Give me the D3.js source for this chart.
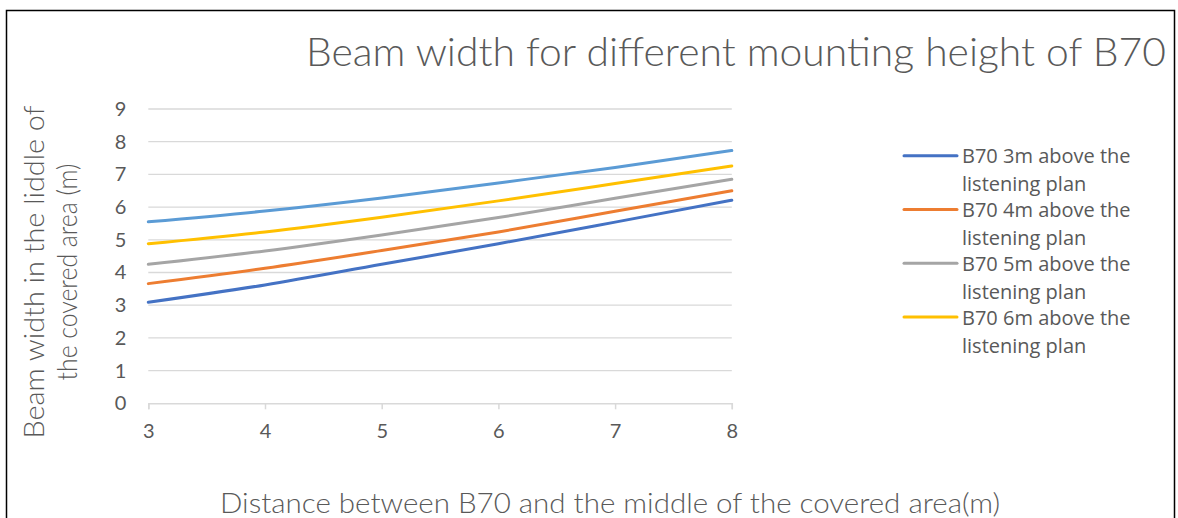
<!DOCTYPE html>
<html>
<head>
<meta charset="utf-8">
<script src="https://cdn.jsdelivr.net/npm/d3@7"></script>
<style>
  body { margin: 0; background: #fff; }
  svg { display: block; }
</style>
</head>
<body>
<svg id="chart" width="1178" height="518"></svg>
<script>
// distances (m) along the x axis
const distances = [3, 4, 5, 6, 7, 8];

// beam width for each mounting height
const b70_3m = [3.09, 3.62, 4.25, 4.88, 5.54, 6.21];
const b70_4m = [3.66, 4.13, 4.67, 5.24, 5.87, 6.50];
const b70_5m = [4.25, 4.66, 5.15, 5.68, 6.27, 6.85];
const b70_6m = [4.88, 5.24, 5.69, 6.19, 6.72, 7.26];
const b70_7m = [5.55, 5.88, 6.28, 6.74, 7.21, 7.73];

const seriesNames = [
  'B70 3m above the listening plan',
  'B70 4m above the listening plan',
  'B70 5m above the listening plan',
  'B70 6m above the listening plan',
  'B70 7m above the listening plan'
];
const seriesValues = [b70_3m, b70_4m, b70_5m, b70_6m, b70_7m];
const colors = ['#4472C4', '#ED7D31', '#A5A5A5', '#FFC000', '#5B9BD5'];
const yTicks = [0, 1, 2, 3, 4, 5, 6, 7, 8, 9];

const svg = d3.select('#chart');
const textColor = '#595959';
const titleFont = 'Lato, sans-serif';
const labelFont = '"Open Sans", sans-serif';

// chart frame
svg.append('rect')
  .attr('x', 6.5).attr('y', 10.5)
  .attr('width', 1168).attr('height', 540)
  .attr('fill', 'none').attr('stroke', '#000').attr('stroke-width', 1.5);

// scales
const x = d3.scaleLinear().domain([3, 8]).range([148.3, 731.8]);
const y = d3.scaleLinear().domain([0, 9]).range([403.3, 109]);

// horizontal gridlines
svg.append('g')
  .selectAll('line')
  .data(yTicks.filter(t => t > 0))
  .enter()
  .append('line')
  .attr('x1', x(3)).attr('x2', x(8))
  .attr('y1', d => y(d)).attr('y2', d => y(d))
  .attr('stroke', '#d9d9d9').attr('stroke-width', 1.3);

// x axis
const xAxis = svg.append('g')
  .attr('transform', `translate(0, ${y(0)})`)
  .call(d3.axisBottom(x).tickValues(distances).tickSize(6).tickPadding(15).tickFormat(d3.format('d')));
xAxis.select('.domain').attr('stroke', '#d9d9d9').attr('stroke-width', 1.5);
xAxis.selectAll('.tick line').attr('stroke', '#d9d9d9').attr('stroke-width', 1.5);
xAxis.selectAll('.tick text')
  .attr('fill', textColor).attr('font-family', titleFont).attr('font-size', 20);

// y axis (labels only)
const yAxis = svg.append('g')
  .attr('transform', `translate(${x(3) - 10}, 0)`)
  .call(d3.axisLeft(y).tickValues(yTicks).tickSize(0).tickPadding(12));
yAxis.select('.domain').remove();
yAxis.selectAll('.tick text')
  .attr('fill', textColor).attr('font-family', titleFont).attr('font-size', 20);

// smooth lines
const line = d3.line()
  .x((d, i) => x(distances[i]))
  .y(d => y(d))
  .curve(d3.curveMonotoneX);

svg.append('g')
  .selectAll('path')
  .data(seriesValues)
  .enter()
  .append('path')
  .attr('d', d => line(d))
  .attr('fill', 'none')
  .attr('stroke', (d, i) => colors[i])
  .attr('stroke-width', 3)
  .attr('stroke-linecap', 'round');

// title
svg.append('text')
  .attr('x', 1166).attr('y', 66)
  .attr('text-anchor', 'end')
  .attr('fill', textColor)
  .attr('font-family', titleFont).attr('font-weight', 300)
  .attr('font-size', 40)
  .attr('textLength', 860).attr('lengthAdjust', 'spacingAndGlyphs')
  .text('Beam width for different mounting height of B70');

// axis titles
svg.append('text')
  .attr('x', 610).attr('y', 513)
  .attr('text-anchor', 'middle')
  .attr('fill', textColor)
  .attr('font-family', titleFont).attr('font-weight', 300)
  .attr('font-size', 27)
  .attr('textLength', 780).attr('lengthAdjust', 'spacingAndGlyphs')
  .text('Distance between B70 and the middle of the covered area(m)');

const yTitle = svg.append('text')
  .attr('transform', 'translate(44, 272) rotate(-90)')
  .attr('text-anchor', 'middle')
  .attr('fill', textColor)
  .attr('font-family', titleFont).attr('font-weight', 300)
  .attr('font-size', 27);
yTitle.append('tspan').attr('x', 0).attr('y', 0)
  .attr('textLength', 333).attr('lengthAdjust', 'spacingAndGlyphs')
  .text('Beam width in the liddle of');
yTitle.append('tspan').attr('x', 0).attr('y', 33)
  .attr('textLength', 217).attr('lengthAdjust', 'spacingAndGlyphs')
  .text('the covered area (m)');

// legend (first four entries fit in the frame)
const legend = svg.append('g')
  .selectAll('g')
  .data(seriesNames.slice(0, 4))
  .enter()
  .append('g')
  .attr('transform', (d, i) => `translate(904, ${155.7 + i * 53.8})`);

legend.append('line')
  .attr('x1', 0).attr('x2', 53)
  .attr('stroke', (d, i) => colors[i])
  .attr('stroke-width', 3)
  .attr('stroke-linecap', 'round');

const legendText = legend.append('text')
  .attr('fill', textColor)
  .attr('font-family', labelFont)
  .attr('font-size', 20);
legendText.append('tspan').attr('x', 58).attr('y', 7.5).text(d => d.replace(' listening plan', ''));
legendText.append('tspan').attr('x', 58).attr('y', 35.5).text('listening plan');
</script>
</body>
</html>
